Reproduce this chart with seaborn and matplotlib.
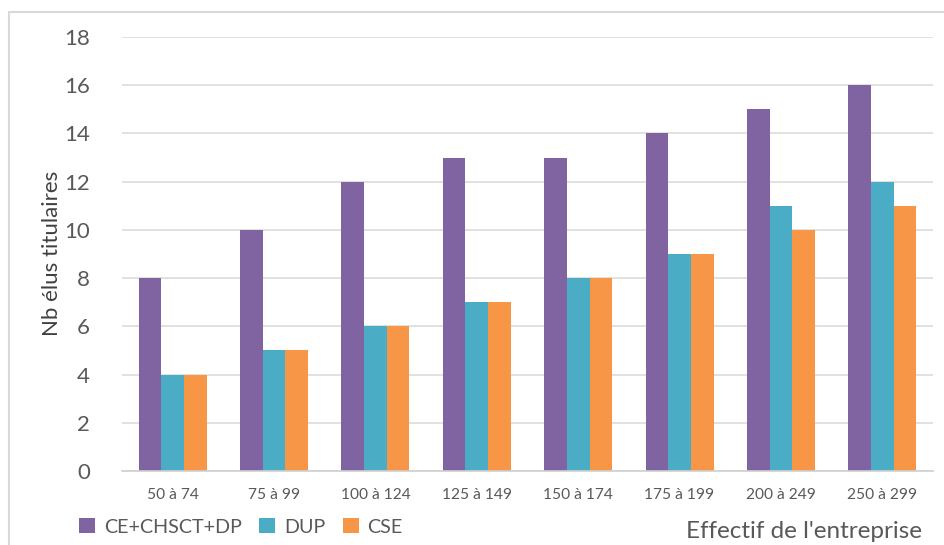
import matplotlib
matplotlib.use("Agg")
import matplotlib.pyplot as plt
from matplotlib.patches import Rectangle, Patch
import seaborn as sns
import pandas as pd

categories = ["50 à 74", "75 à 99", "100 à 124", "125 à 149",
              "150 à 174", "175 à 199", "200 à 249", "250 à 299"]
series_names = ["CE+CHSCT+DP", "DUP", "CSE"]
ce_chsct_dp = [8, 10, 12, 13, 13, 14, 15, 16]
dup = [4, 5, 6, 7, 8, 9, 11, 12]
cse = [4, 5, 6, 7, 8, 9, 10, 11]
colors = ["#8064A2", "#4BACC6", "#F79646"]

rows = []
for name, vals in zip(series_names, [ce_chsct_dp, dup, cse]):
    for cat, v in zip(categories, vals):
        rows.append({"cat": cat, "serie": name, "val": v})
df = pd.DataFrame(rows)

sns.set_theme(style="white")
plt.rcParams["font.family"] = ["Lato", "DejaVu Sans"]
txt = "#595959"

fig = plt.figure(figsize=(9.45, 5.45), dpi=100)
ax = fig.add_axes([122 / 945, 1 - 471 / 545, (933 - 122) / 945, (471 - 37) / 545])

sns.barplot(data=df, x="cat", y="val", hue="serie", order=categories,
            hue_order=series_names, palette=colors, width=0.67, gap=0,
            saturation=1, ax=ax, legend=False, linewidth=0)

ax.set_ylim(0, 18)
ax.set_xlim(-0.5, len(categories) - 0.5)
ax.set_yticks(range(0, 19, 2))
ax.yaxis.grid(True, color="#D9D9D9", linewidth=1.1)
ax.set_axisbelow(True)
for s in ["top", "right", "left"]:
    ax.spines[s].set_visible(False)
ax.spines["bottom"].set_color("#D0D0D0")
ax.spines["bottom"].set_linewidth(1.2)
ax.tick_params(axis="y", length=0, pad=23, labelsize=16, labelcolor=txt)
ax.tick_params(axis="x", length=0, pad=12, labelsize=11.2, labelcolor=txt)
ax.set_xlabel("")
ax.set_ylabel("")

fig.text(52 / 945, 1 - 253 / 545, "Nb élus titulaires", rotation=90,
         ha="center", va="center", fontsize=16, color="#404040")

# outer frame of the chart area
fig.patches.append(Rectangle((9 / 945, -0.2), 1.2, 1 - 12 / 545 + 0.2,
                             transform=fig.transFigure, fill=False,
                             edgecolor="#D9D9D9", linewidth=1.5))

handles = [Patch(facecolor=c, edgecolor="none") for c in colors]
fig.legend(handles, series_names, loc="center left",
           bbox_to_anchor=(79 / 945, 1 - 527 / 545), ncol=3, frameon=False,
           fontsize=14.2, labelcolor=txt, handlelength=0.8, handleheight=0.8,
           handletextpad=0.45, columnspacing=0.9, borderaxespad=0, borderpad=0)

fig.text(922 / 945, 1 - 532 / 545, "Effectif de l'entreprise", ha="right",
         va="center", fontsize=17.5, color=txt)

fig.savefig("out.png", dpi=100)
